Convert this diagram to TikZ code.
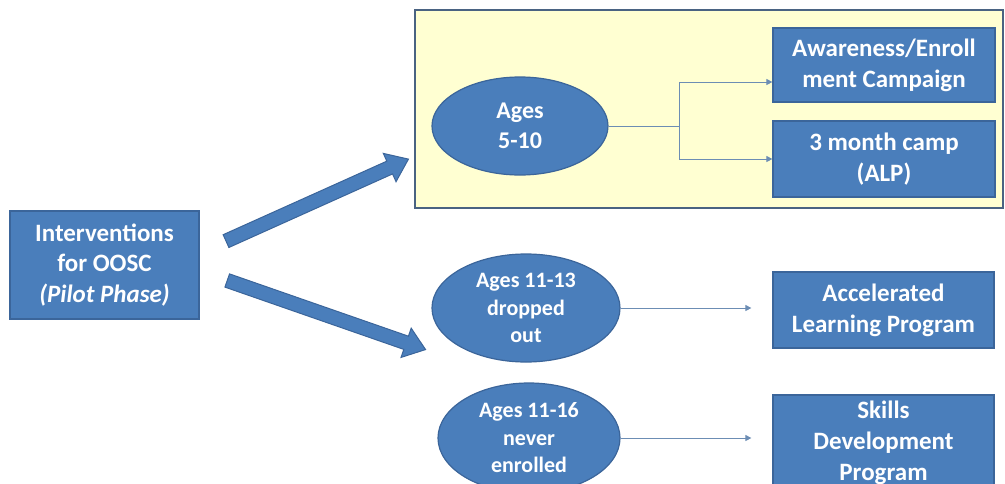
\documentclass[tikz,border=0pt]{standalone}
\usepackage{fontspec}
\setmainfont{Carlito}
\usepackage{xcolor}
\usepackage{tikz}
\usetikzlibrary{arrows.meta,shapes.geometric,shapes.arrows}

\definecolor{boxblue}{HTML}{4A7EBB}
\definecolor{edgeblue}{HTML}{3B659A}
\definecolor{panelfill}{HTML}{FFFFD2}
\definecolor{panelline}{HTML}{4A6382}
\definecolor{linkblue}{HTML}{6C8DB4}

\begin{document}
\begin{tikzpicture}[x=1pt,y=-1pt,
    box/.style={rectangle,draw=edgeblue,line width=1.2pt,fill=boxblue,text=white,
        font=\fontsize{25}{31}\selectfont\bfseries,align=center,inner sep=0pt},
    age/.style={ellipse,draw=edgeblue,line width=1.2pt,fill=boxblue,text=white,
        font=\fontsize{22}{27.5}\selectfont\bfseries,align=center,inner sep=0pt},
    link/.style={linkblue,line width=0.9pt,-{Triangle[width=6pt,length=6pt]}},
    bigarrow/.style={single arrow,draw=edgeblue,fill=boxblue,line width=1pt,
        inner xsep=0pt,inner ysep=6.5pt,single arrow head extend=8.5pt,
        single arrow tip angle=74}]
    \useasboundingbox (0,0) rectangle (1005,483);

    % Panel for ages 5-10
    \draw[panelline,line width=1.8pt,fill=panelfill] (415,10) rectangle (1003,208);

    % Start box
    \node[box,minimum width=189pt,minimum height=108pt,font=\fontsize{25}{30.5}\selectfont\bfseries]
        (oosc) at (104.5,265) {Interventions\\for OOSC\\\textit{(Pilot Phase)}};

    % Age groups
    \node[age,minimum width=176pt,minimum height=98pt,font=\fontsize{24}{30}\selectfont\bfseries]
        (age510) at (520,126) {Ages\\5-10};
    \node[age,minimum width=188pt,minimum height=108pt] (age1113) at (526,308) {Ages 11-13\\dropped\\out};
    \node[age,minimum width=182pt,minimum height=110pt] (age1116) at (529,438) {Ages 11-16\\never\\enrolled};

    % Programs
    \node[box,minimum width=222pt,minimum height=74pt] (aware) at (884,65) {Awareness/Enroll\\ment Campaign};
    \node[box,minimum width=222pt,minimum height=76pt] (camp) at (884,159) {3 month camp\\(ALP)};
    \node[box,minimum width=221pt,minimum height=76pt] (alp) at (883.5,310) {Accelerated\\Learning Program};
    \node[box,minimum width=221pt,minimum height=96pt] (skills) at (883.5,443) {Skills\\Development\\Program};

    % Block arrows out of the start box
    \node[bigarrow,minimum height=200pt,rotate=24.2] (upArrow) at (313,202) {};
    \node[bigarrow,minimum height=210pt,rotate=-19.2] (downArrow) at (322,313.5) {};

    % Fork inside the panel
    \coordinate (fork) at (679,126);
    \draw[linkblue,line width=0.9pt] (age510.east) -- (fork);
    \draw[link] (fork) |- ([yshift=-17pt]aware.west);
    \draw[link] (fork) |- (camp.west);

    % Links to the programs
    \draw[link,shorten >=21pt] (age1113.east) -- (age1113.east -| alp.west);
    \draw[link,shorten >=21pt] (age1116.east) -- (age1116.east -| skills.west);
\end{tikzpicture}
\end{document}
